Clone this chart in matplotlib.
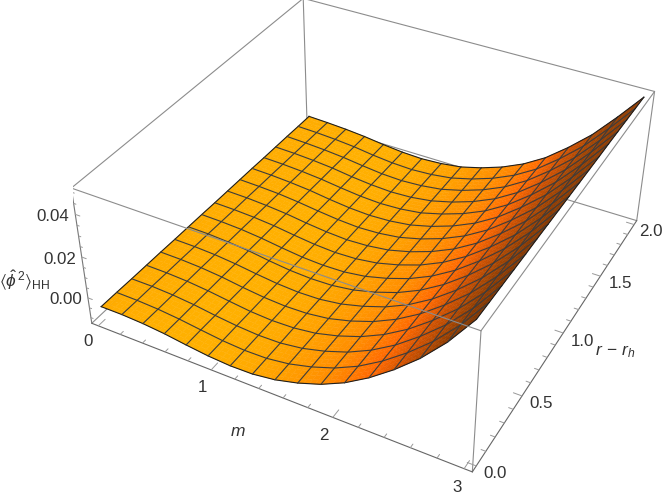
import numpy as np
import matplotlib
matplotlib.use('Agg')
import matplotlib.pyplot as plt

plt.rcParams['mathtext.fontset'] = 'custom'
plt.rcParams['mathtext.rm'] = 'Liberation Sans'
plt.rcParams['mathtext.it'] = 'Liberation Sans:italic'
plt.rcParams['mathtext.fallback'] = 'stix'

m_values = [0, 0.1875, 0.375, 0.5625, 0.75, 0.9375, 1.125, 1.3125, 1.5, 1.6875, 1.875, 2.0625, 2.25, 2.4375, 2.625, 2.8125, 3]
r_values = [0, 0.125, 0.25, 0.375, 0.5, 0.625, 0.75, 0.875, 1, 1.125, 1.25, 1.375, 1.5, 1.625, 1.75, 1.875, 2]
# one row per r value, in units of 1e-4
z_table = [
    [-55, -55, -60, -70, -85, -98, -105, -103, -88, -60, -22, 30, 98, 180, 275, 390, 530],
    [-56, -57, -62, -72, -86, -99, -106, -104, -89, -61, -23, 29, 97, 179, 274, 389, 528],
    [-58, -58, -63, -73, -88, -100, -107, -105, -90, -62, -24, 28, 95, 178, 273, 388, 526],
    [-59, -60, -65, -75, -89, -102, -108, -105, -91, -63, -25, 27, 94, 177, 272, 387, 524],
    [-60, -61, -66, -76, -91, -103, -109, -106, -92, -64, -26, 26, 93, 176, 271, 386, 522],
    [-62, -63, -68, -78, -92, -104, -110, -107, -92, -64, -27, 24, 91, 174, 270, 385, 521],
    [-63, -64, -70, -79, -94, -106, -111, -108, -93, -65, -28, 23, 90, 173, 269, 384, 519],
    [-64, -66, -71, -81, -95, -107, -112, -109, -94, -66, -29, 22, 89, 172, 268, 383, 517],
    [-66, -68, -73, -82, -96, -108, -114, -110, -95, -67, -30, 21, 88, 171, 266, 382, 515],
    [-67, -69, -75, -84, -98, -109, -115, -110, -96, -68, -30, 20, 86, 170, 265, 382, 513],
    [-68, -71, -76, -86, -99, -110, -116, -111, -97, -69, -31, 19, 85, 169, 264, 381, 511],
    [-69, -72, -78, -87, -101, -112, -117, -112, -98, -70, -32, 18, 84, 168, 263, 380, 509],
    [-71, -74, -80, -89, -102, -113, -118, -113, -99, -70, -33, 16, 82, 166, 262, 379, 508],
    [-72, -75, -81, -90, -104, -114, -119, -114, -99, -71, -34, 15, 81, 165, 261, 378, 506],
    [-73, -77, -83, -92, -105, -116, -120, -114, -100, -72, -35, 14, 80, 164, 260, 377, 504],
    [-75, -78, -84, -93, -107, -117, -121, -115, -101, -73, -36, 13, 78, 163, 259, 376, 502],
    [-76, -80, -86, -95, -108, -118, -122, -116, -102, -74, -37, 12, 77, 162, 258, 375, 500],
]
m_ticks = ['0', '1', '2', '3']
r_ticks = ['0.0', '0.5', '1.0', '1.5', '2.0']
z_ticks = ['0.00', '0.02', '0.04']

m_values = np.array(m_values)
r_values = np.array(r_values)
Z = np.array(z_table) * 1e-4

xl = (-0.06, 3.06); yl = (-0.04, 2.04); zl = (-0.0129, 0.0519)
elev, azim, roll, focal = 36.332, -61.853, -0.2377, 0.44757
aspect = (1, 1.00677, 0.39591)
cx, k, cy = 377.269, 3200.657, 205.687

fig = plt.figure(figsize=(6.64, 5), dpi=100)
ax = fig.add_axes([0, 0, 1, 1], projection='3d')
ax.set_xlim(xl); ax.set_ylim(yl); ax.set_zlim(zl)
ax.view_init(elev=elev, azim=azim, roll=roll)
ax.set_proj_type('persp', focal_length=focal)
ax.set_box_aspect(aspect)
ax.set_axis_off()
ax.computed_zorder = False
ax.patch.set_alpha(0)
vl = ax.viewLim
W = k * (vl.x1 - vl.x0); H = k * (vl.y1 - vl.y0)
ax.set_position([(cx + k * vl.x0) / 664, (500 - cy + k * vl.y0) / 500, W / 664, H / 500])

# colour follows the slope along m, blended inside each cell like the smooth shading
slope = np.gradient(Z, m_values, axis=1)
s_pts = [-0.01, 0.0, 0.012, 0.025, 0.04, 0.05, 0.06, 0.075]
r_pts = [255, 255, 255, 255, 255, 205, 165, 120]
g_pts = [178, 172, 160, 140, 105, 80, 68, 50]
n = 4
fi = np.linspace(0, 16, 16 * n + 1)
def fine(A):
    A = np.array([np.interp(fi, np.arange(17), row) for row in A])
    return np.array([np.interp(fi, np.arange(17), col) for col in A.T]).T
Xf, Yf = np.meshgrid(np.interp(fi, np.arange(17), m_values), np.interp(fi, np.arange(17), r_values))
Zf = fine(Z)
Sf = (fine(slope)[:-1, :-1] + fine(slope)[1:, 1:]) / 2
cols = np.zeros(Sf.shape + (4,))
cols[..., 0] = np.interp(Sf, s_pts, r_pts) / 255
cols[..., 1] = np.interp(Sf, s_pts, g_pts) / 255
cols[..., 3] = 1

def line(p, q, color='#8c8c8c', lw=0.8, z=1):
    ax.plot([p[0], q[0]], [p[1], q[1]], [p[2], q[2]], color=color, lw=lw, zorder=z, solid_capstyle='round')

x0, x1 = xl; y0, y1 = yl; z0, z1 = zl
# back edges, hidden by the surface
line((x0, y0, z0), (x0, y1, z0)); line((x0, y1, z0), (x1, y1, z0)); line((x0, y1, z0), (x0, y1, z1))
ax.plot_surface(Xf, Yf, Zf, facecolors=cols, rstride=1, cstride=1, linewidth=0.3, shade=False, zorder=2)

for i in range(17):
    edge = i in (0, 16)
    ax.plot(m_values, [r_values[i]] * 17, Z[i], color='#1e1e1e' if edge else '#3c3c3c', lw=0.8, zorder=3)
    ax.plot([m_values[i]] * 17, r_values, Z[:, i], color='#1e1e1e' if edge else '#3c3c3c', lw=0.8, zorder=3)

# front and top edges
line((x0, y0, z1), (x1, y0, z1), z=4); line((x1, y0, z1), (x1, y1, z1), z=4)
line((x1, y1, z1), (x0, y1, z1), z=4); line((x0, y1, z1), (x0, y0, z1), z=4)
line((x1, y0, z0), (x1, y0, z1), z=4); line((x1, y1, z0), (x1, y1, z1), z=4)
line((x0, y0, z0), (x0, y0, z1), color='#777777', z=4)
line((x0, y0, z0), (x1, y0, z0), color='#666666', z=4); line((x1, y0, z0), (x1, y1, z0), color='#666666', z=4)

for v in np.arange(0, 3.01, 0.2):
    major = abs(v - round(v)) < 1e-6
    line((v, y0, z0), (v, y0 + (0.055 if major else 0.025), z0), color='#999999', lw=0.7, z=4)
for v in np.arange(0, 2.01, 0.1):
    major = abs(v * 2 - round(v * 2)) < 1e-6
    line((x1, v, z0), (x1 - (0.066 if major else 0.035), v, z0), color='#999999', lw=0.7, z=4)
for v in np.arange(-0.01, 0.0501, 0.005):
    major = abs(v * 50 - round(v * 50)) < 1e-6
    line((x0, y0, v), (x0 + (0.04 if major else 0.02), y0, v), color='#999999', lw=0.7, z=4)

def label(x, y, s, size=12.2, **kw):
    fig.text(x / 664, 1 - y / 500, s, ha='center', va='center', fontsize=size, color='#333333', family='Liberation Sans', **kw)

for (x, y), s in zip([(66, 299), (60, 259), (53, 217)], z_ticks):
    label(x, y, s)
for (x, y), s in zip([(88, 342), (202, 388), (324, 436), (457, 487)], m_ticks):
    label(x, y, s)
for (x, y), s in zip([(495, 474), (541, 404), (582, 341), (620, 283), (651, 232)], r_ticks):
    label(x, y, s)
label(238, 432, '$m$', size=12.5)
label(615, 352, r'$r\,-\,r_h$', size=12.5)
label(25, 281, r'$\langle\hat{\phi}^{\,2}\rangle_{\mathrm{HH}}$', size=12.5)

fig.savefig('out.png', dpi=100)
